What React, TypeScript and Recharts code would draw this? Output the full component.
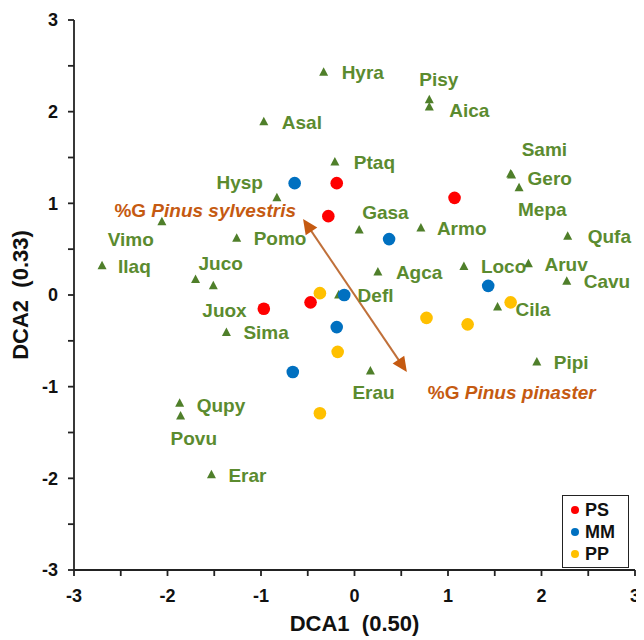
import React from "react";
import {
  ScatterChart,
  Scatter,
  XAxis,
  YAxis,
  ReferenceLine,
  Legend,
} from "recharts";

const FONT = "'Liberation Sans', Arial, sans-serif";
const GREEN_TXT = "#5b8b2f";
const GREEN_MARK = "#4f7f2a";
const ORANGE = "#c55a11";

// species scores (DCA1, DCA2)
const speciesNames = [
  "Hyra", "Pisy", "Aica", "Asal", "Ptaq", "Sami", "Gero", "Mepa", "Hysp", "Vimo",
  "Pomo", "Ilaq", "Juco", "Juox", "Gasa", "Armo", "Qufa", "Agca", "Loco", "Aruv",
  "Cavu", "Defl", "Cila", "Sima", "Pipi", "Erau", "Qupy", "Povu", "Erar",
];
const speciesX = [
  -0.33, 0.8, 0.8, -0.97, -0.21, 1.67, 1.68, 1.76, -0.83, -2.06,
  -1.26, -2.7, -1.7, -1.51, 0.05, 0.71, 2.28, 0.25, 1.17, 1.86,
  2.27, -0.17, 1.53, -1.37, 1.95, 0.17, -1.87, -1.86, -1.53,
];
const speciesY = [
  2.43, 2.13, 2.05, 1.89, 1.45, 1.32, 1.31, 1.17, 1.06, 0.8,
  0.62, 0.32, 0.17, 0.1, 0.71, 0.73, 0.64, 0.25, 0.31, 0.34,
  0.15, 0.0, -0.13, -0.41, -0.73, -0.83, -1.18, -1.32, -1.96,
];
// label nudges in px [dx, dy, anchor]
const labelNudge: [number, number, string][] = [
  [18, 0, "start"], [-10, -21, "start"], [20, 3, "start"], [18, 0, "start"], [19, 0, "start"],
  [11, -25, "start"], [16, 3, "start"], [-1, 21, "start"], [-14, -16, "end"], [-8, 17, "end"],
  [17, 0, "start"], [16, 0, "start"], [3, -16, "start"], [-11, 24, "start"], [3, -18, "start"],
  [16, 0, "start"], [20, 0, "start"], [18, 0, "start"], [17, 0, "start"], [16, 0, "start"],
  [17, 0, "start"], [19, 0, "start"], [18, 2, "start"], [17, 0, "start"], [17, 0, "start"],
  [-18, 21, "start"], [17, 2, "start"], [-10, 22, "start"], [17, 0, "start"],
];

// site scores by group
const psX = [-0.19, -0.28, 1.07, -0.97, -0.47];
const psY = [1.22, 0.86, 1.06, -0.15, -0.08];
const mmX = [-0.64, 0.37, -0.11, 1.43, -0.19, -0.66];
const mmY = [1.22, 0.61, 0.0, 0.1, -0.35, -0.84];
const ppX = [-0.37, 1.67, 0.77, 1.21, -0.18, -0.37];
const ppY = [0.02, -0.08, -0.25, -0.32, -0.62, -1.29];

const groupNames = ["PS", "MM", "PP"];
const groupColors = ["#ff0000", "#0070c0", "#ffc000"];

// environmental vector (%G Pinus), drawn as a double arrow
const arrowTop = { x: -0.55, y: 0.83 };
const arrowBottom = { x: 0.56, y: -0.84 };
const arrowLabels = ["Pinus sylvestris", "Pinus pinaster"];

const ticks = [-3, -2.5, -2, -1.5, -1, -0.5, 0, 0.5, 1, 1.5, 2, 2.5, 3];

const toPoints = (xs: number[], ys: number[]) => xs.map((x, i) => ({ x, y: ys[i] }));

const species = speciesNames.map((name, i) => ({
  x: speciesX[i],
  y: speciesY[i],
  name,
  dx: labelNudge[i][0],
  dy: labelNudge[i][1],
  anchor: labelNudge[i][2],
}));

const SpeciesShape = (props: any) => {
  const { cx, cy, payload } = props;
  if (cx == null || cy == null) return null;
  return (
    <g>
      <polygon
        points={`${cx},${cy - 5} ${cx - 4.5},${cy + 3.5} ${cx + 4.5},${cy + 3.5}`}
        fill={GREEN_MARK}
      />
      <text
        x={cx + payload.dx}
        y={cy + payload.dy}
        dy="0.36em"
        textAnchor={payload.anchor}
        fontFamily={FONT}
        fontWeight="bold"
        fontSize={19}
        fill={GREEN_TXT}
      >
        {payload.name}
      </text>
    </g>
  );
};

const Dot = (color: string) => (props: any) => {
  const { cx, cy } = props;
  if (cx == null || cy == null) return null;
  return <circle cx={cx} cy={cy} r={6.3} fill={color} />;
};

function head(x: number, y: number, ux: number, uy: number) {
  // tip at (x,y), pointing along (ux,uy)
  const len = 15;
  const w = 7;
  const bx = x - ux * len;
  const by = y - uy * len;
  return `${x},${y} ${bx - uy * w},${by + ux * w} ${bx + uy * w},${by - ux * w}`;
}

const ArrowShape = (props: any) => {
  const { x1, y1, x2, y2 } = props;
  if ([x1, y1, x2, y2].some((v) => v == null || isNaN(v))) return null;
  const top = y1 < y2 ? { x: x1, y: y1 } : { x: x2, y: y2 };
  const bot = y1 < y2 ? { x: x2, y: y2 } : { x: x1, y: y1 };
  const L = Math.hypot(bot.x - top.x, bot.y - top.y);
  const ux = (bot.x - top.x) / L;
  const uy = (bot.y - top.y) / L;
  const labelStyle = { fontFamily: FONT, fontWeight: "bold" as const, fontSize: 19 };
  return (
    <g>
      <line
        x1={top.x + ux * 12}
        y1={top.y + uy * 12}
        x2={bot.x - ux * 12}
        y2={bot.y - uy * 12}
        stroke="#c0703a"
        strokeWidth={2}
      />
      <polygon points={head(top.x, top.y, -ux, -uy)} fill={ORANGE} />
      <polygon points={head(bot.x, bot.y, ux, uy)} fill={ORANGE} />
      <text x={top.x - 7} y={top.y - 9} dy="0.36em" textAnchor="end" fill={ORANGE} style={labelStyle}>
        %G <tspan fontStyle="italic">{arrowLabels[0]}</tspan>
      </text>
      <text x={bot.x + 21} y={bot.y + 20} dy="0.36em" textAnchor="start" fill={ORANGE} style={labelStyle}>
        %G <tspan fontStyle="italic">{arrowLabels[1]}</tspan>
      </text>
    </g>
  );
};

const XTick = (props: any) => {
  const { x, y, payload } = props;
  if (!Number.isInteger(payload.value)) return null;
  return (
    <text x={x} y={y} dy="0.71em" textAnchor="middle" fontFamily={FONT} fontWeight="bold" fontSize={18} fill="#111">
      {payload.value}
    </text>
  );
};

const YTick = (props: any) => {
  const { x, y, payload } = props;
  if (!Number.isInteger(payload.value)) return null;
  return (
    <text x={x} y={y} dy="0.36em" textAnchor="end" fontFamily={FONT} fontWeight="bold" fontSize={18} fill="#111">
      {payload.value}
    </text>
  );
};

const LegendBox = () => (
  <div
    style={{
      border: "1.5px solid #222",
      padding: "3px 6px 2px 8px",
      background: "#fff",
      fontFamily: FONT,
      fontWeight: "bold",
      fontSize: 18,
      lineHeight: "22px",
      color: "#111",
    }}
  >
    {groupNames.map((g, i) => (
      <div key={g} style={{ display: "flex", alignItems: "center" }}>
        <span
          style={{
            width: 8,
            height: 8,
            borderRadius: 4,
            background: groupColors[i],
            display: "inline-block",
            marginRight: 6,
          }}
        />
        {g}
      </div>
    ))}
  </div>
);

const axisLine = { stroke: "#222", strokeWidth: 1.8 };

export default function App() {
  return (
    <div style={{ width: 636, height: 632, background: "#fff" }}>
      <ScatterChart width={636} height={632} margin={{ top: 12, right: 9, bottom: 8, left: 8 }}>
        <XAxis
          type="number"
          dataKey="x"
          domain={[-3, 3]}
          ticks={ticks}
          interval={0}
          allowDataOverflow
          height={62}
          axisLine={axisLine}
          tickLine={axisLine}
          tickSize={6}
          tickMargin={13}
          tick={<XTick />}
          label={{
            value: "DCA1\u00a0\u00a0(0.50)",
            position: "insideBottom",
            offset: 1,
            style: { fontFamily: FONT, fontWeight: "bold", fontSize: 22, fill: "#111" },
          }}
        />
        <YAxis
          type="number"
          dataKey="y"
          domain={[-3, 3]}
          ticks={ticks}
          interval={0}
          allowDataOverflow
          width={58}
          axisLine={axisLine}
          tickLine={axisLine}
          tickSize={6}
          tickMargin={10}
          tick={<YTick />}
          label={{
            value: "DCA2\u00a0\u00a0(0.33)",
            angle: -90,
            position: "insideLeft",
            offset: 4,
            style: { fontFamily: FONT, fontWeight: "bold", fontSize: 22, fill: "#111", textAnchor: "middle" },
          }}
        />
        <Scatter
          name="species"
          data={species}
          shape={SpeciesShape}
          legendType="none"
          isAnimationActive={false}
        />
        <ReferenceLine segment={[arrowTop, arrowBottom]} shape={ArrowShape} />
        <Scatter name="PS" data={toPoints(psX, psY)} fill={groupColors[0]} shape={Dot(groupColors[0])} isAnimationActive={false} />
        <Scatter name="MM" data={toPoints(mmX, mmY)} fill={groupColors[1]} shape={Dot(groupColors[1])} isAnimationActive={false} />
        <Scatter name="PP" data={toPoints(ppX, ppY)} fill={groupColors[2]} shape={Dot(groupColors[2])} isAnimationActive={false} />
        <Legend
          layout="vertical"
          align="center"
          verticalAlign="middle"
          content={<LegendBox />}
          wrapperStyle={{ left: 554, top: 487, width: 67 }}
        />
      </ScatterChart>
    </div>
  );
}
